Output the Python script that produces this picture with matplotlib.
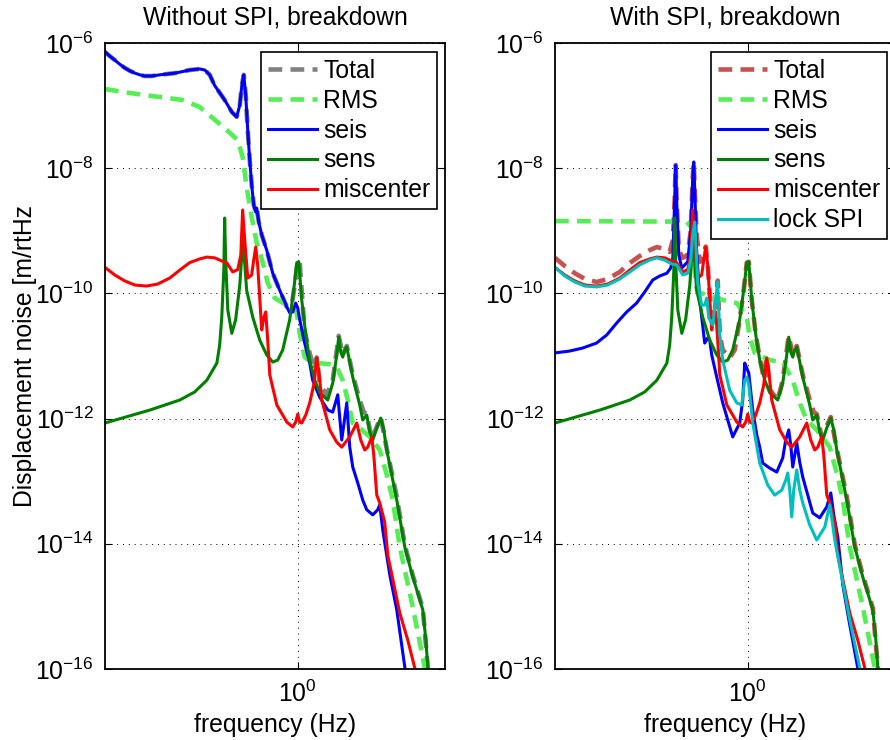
import matplotlib
matplotlib.use('Agg')
import matplotlib.pyplot as plt
from matplotlib.ticker import NullLocator

plt.rcParams['font.family'] = ['Liberation Sans', 'DejaVu Sans']
plt.rcParams['mathtext.default'] = 'regular'

# ---- data (frequency in Hz, displacement noise in m/rtHz) ----
# without SPI
seis_f = [0.110, 0.116, 0.123, 0.130, 0.138, 0.146, 0.155, 0.164, 0.173, 0.188,
          0.206, 0.245, 0.290, 0.325, 0.345, 0.365, 0.386, 0.433, 0.470, 0.497,
          0.515, 0.527, 0.539, 0.551, 0.564, 0.577, 0.590, 0.604, 0.618, 0.625,
          0.640, 0.662, 0.701, 0.751, 0.813, 0.882,
          0.912, 0.944, 0.977, 1.0, 1.023, 1.083, 1.147, 1.187, 1.286, 1.410,
          1.493, 1.581, 1.655, 1.753, 1.814, 1.877, 1.988, 2.105, 2.204, 2.361,
          2.500, 2.558, 2.648, 2.869, 3.108, 3.407, 3.525]
seis_a = [7.2e-7, 6.2e-7, 5.35e-7, 4.6e-7, 4.0e-7, 3.6e-7, 3.3e-7, 3.1e-7, 2.97e-7, 2.97e-7,
          3.1e-7, 3.3e-7, 3.7e-7, 3.85e-7, 3.7e-7, 3.1e-7, 2.1e-7, 1.23e-7, 7.9e-8, 6.6e-8,
          1.02e-7, 2.1e-7, 3.1e-7, 1.48e-7, 4.1e-8, 1.35e-8, 5.4e-9, 2.6e-9, 2.0e-9, 2.3e-9,
          1.38e-9, 8.6e-10, 4.9e-10, 2.1e-10, 1.13e-10, 6.1e-11,
          4.9e-11, 5.05e-11, 7.0e-11, 5.85e-11, 3.8e-11, 1.6e-11, 7.7e-12, 4.1e-12, 2.2e-12, 1.37e-12,
          1.27e-12, 2.4e-12, 4.55e-13, 1.78e-12, 3.5e-13, 1.69e-13, 9.4e-14, 5.0e-14, 3.5e-14, 2.9e-14,
          3.5e-14, 4.2e-14, 1.66e-14, 3.2e-15, 8.8e-16, 1.08e-16, 5.5e-17]

total_f = [0.110, 0.116, 0.123, 0.130, 0.138, 0.146, 0.155, 0.164, 0.173, 0.188,
           0.206, 0.245, 0.290, 0.325, 0.345, 0.365, 0.386, 0.433, 0.470, 0.497,
           0.515, 0.527, 0.539, 0.551, 0.564, 0.577, 0.590, 0.604, 0.618, 0.625,
           0.640, 0.662, 0.701, 0.751, 0.813, 0.882,
           0.934, 0.966, 1.0, 1.023, 1.047, 1.083, 1.147, 1.215, 1.243, 1.286,
           1.394, 1.493, 1.599, 1.674, 1.753, 1.877, 2.034, 2.13, 2.204, 2.334,
           2.588, 2.772, 3.108, 3.407, 3.733, 4.188, 4.433, 4.48]
total_a = [7.2e-7, 6.2e-7, 5.35e-7, 4.6e-7, 4.0e-7, 3.6e-7, 3.3e-7, 3.1e-7, 2.97e-7, 2.97e-7,
           3.1e-7, 3.3e-7, 3.7e-7, 3.85e-7, 3.7e-7, 3.1e-7, 2.1e-7, 1.23e-7, 7.9e-8, 6.6e-8,
           1.02e-7, 2.1e-7, 3.1e-7, 1.48e-7, 4.1e-8, 1.35e-8, 5.4e-9, 2.6e-9, 2.0e-9, 2.3e-9,
           1.38e-9, 8.6e-10, 4.9e-10, 2.1e-10, 1.13e-10, 6.1e-11,
           6.5e-11, 1.36e-10, 3.3e-10, 3.1e-10, 1.05e-10, 2.5e-11, 1.1e-11, 6.0e-12, 9.5e-12, 3.5e-12,
           2.4e-12, 4.1e-12, 2.1e-11, 1.04e-11, 1.45e-11, 5.0e-12, 1.98e-12, 1.27e-12, 1.18e-12, 4.7e-13,
           1.06e-12, 3.3e-13, 5.6e-14, 9.6e-15, 3.15e-15, 9.4e-16, 1.08e-16, 5.5e-17]

rms_f = [0.110, 0.146, 0.206, 0.268, 0.325, 0.378, 0.443, 0.503, 0.532, 0.557,
         0.590, 0.625, 0.647, 0.685, 0.709, 0.769, 0.882, 0.989, 1.023, 1.083,
         1.17, 1.443, 1.563, 1.674, 1.773, 1.877, 2.034, 2.281, 2.558, 2.772,
         2.970, 3.217, 3.733, 4.284, 4.38]
rms_a = [1.84e-7, 1.59e-7, 1.37e-7, 1.23e-7, 9.5e-8, 6.3e-8, 4.1e-8, 2.8e-8, 1.51e-8, 5.0e-9,
         1.66e-9, 6.4e-10, 4.6e-10, 2.4e-10, 1.47e-10, 8.4e-11, 6.5e-11, 4.9e-11, 2.3e-11, 9.6e-12,
         7.9e-12, 7.4e-12, 6.6e-12, 4.1e-12, 1.98e-12, 8.5e-13, 7.1e-13, 5.1e-13, 3.15e-13, 1.26e-13,
         5.0e-14, 8.9e-15, 9.8e-16, 1.04e-16, 6.7e-17]

# same in both panels
sens_f = [0.110, 0.184, 0.259, 0.307, 0.353, 0.373, 0.396, 0.409, 0.419, 0.429,
          0.433, 0.438, 0.449, 0.470, 0.491, 0.515, 0.527, 0.532, 0.539, 0.557,
          0.597, 0.647, 0.701, 0.751, 0.795, 0.842, 0.912, 0.955, 0.989, 1.012,
          1.047, 1.096, 1.147, 1.215, 1.286, 1.410, 1.493, 1.563, 1.599, 1.636,
          1.674, 1.713, 1.753, 1.814, 1.877, 2.034, 2.105, 2.204, 2.281, 2.361,
          2.472, 2.588, 2.678, 2.772, 2.970, 3.108, 3.407, 3.733, 3.910, 4.188,
          4.337, 4.433, 4.48]
sens_a = [8.5e-13, 1.37e-12, 1.98e-12, 2.66e-12, 4.1e-12, 5.55e-12, 7.7e-12, 1.5e-11, 4.2e-11, 2.4e-10,
          1.6e-9, 3.4e-10, 5.4e-11, 2.3e-11, 3.8e-11, 1.36e-10, 4.1e-10, 8.6e-10, 4.9e-10, 1.13e-10,
          4.2e-11, 1.8e-11, 1.04e-11, 8.0e-12, 8.6e-12, 1.25e-11, 3.8e-11, 1.13e-10, 3.1e-10, 3.2e-10,
          7.85e-11, 2.2e-11, 8.6e-12, 4.1e-12, 2.6e-12, 1.98e-12, 3.7e-12, 1.04e-11, 2.0e-11, 1.16e-11,
          9.6e-12, 1.25e-11, 1.39e-11, 8.0e-12, 4.6e-12, 1.65e-12, 9.5e-13, 1.14e-12, 6.1e-13, 4.55e-13,
          7.1e-13, 1.02e-12, 6.6e-13, 3.15e-13, 1.04e-13, 5.0e-14, 8.9e-15, 2.95e-15, 1.83e-15, 8.8e-16,
          2.9e-16, 1.08e-16, 5.5e-17]

misc_f = [0.110, 0.123, 0.138, 0.155, 0.177, 0.201, 0.231, 0.259, 0.290, 0.325,
          0.353, 0.386, 0.419, 0.443, 0.475, 0.503,
          0.521, 0.532, 0.545, 0.564, 0.590, 0.604, 0.618, 0.632, 0.662, 0.677,
          0.693, 0.709, 0.726, 0.787, 0.882, 0.944, 0.977, 1.0, 1.023, 1.047,
          1.096, 1.147, 1.201, 1.243, 1.271, 1.316, 1.443, 1.563, 1.655, 1.814,
          1.965, 2.058, 2.154, 2.229, 2.334, 2.389, 2.472, 2.558, 2.709, 2.804,
          3.217, 3.525, 3.82, 3.91]
misc_a = [2.6e-10, 1.97e-10, 1.58e-10, 1.36e-10, 1.31e-10, 1.41e-10, 1.76e-10, 2.36e-10, 3.1e-10, 3.55e-10,
          3.8e-10, 3.7e-10, 3.3e-10, 3.1e-10, 2.2e-10, 2.4e-10,
          4.1e-10, 2.15e-9, 7.1e-10, 1.76e-10, 1.97e-10, 3.4e-10, 5.5e-10, 2.85e-10, 2.6e-11, 4.05e-11,
          5.05e-11, 1.8e-11, 5.0e-12, 1.65e-12, 8.8e-13, 7.35e-13, 8.8e-13, 1.18e-12, 8.8e-13, 8.5e-13,
          1.14e-12, 1.78e-12, 3.45e-12, 9.3e-12, 6.0e-12, 1.98e-12, 6.6e-13, 4.2e-13, 3.5e-13, 5.1e-13,
          8.5e-13, 4.55e-13, 3.15e-13, 3.5e-13, 5.1e-13, 2.6e-13, 6.0e-14, 4.5e-14, 2.2e-14, 6.6e-15,
          7.85e-16, 2.9e-16, 1.04e-16, 6.7e-17]

# with SPI
seis2_f = [0.110, 0.130, 0.151, 0.177, 0.199, 0.223, 0.250, 0.280, 0.307, 0.337,
           0.365, 0.396, 0.414, 0.424, 0.433,
           0.438, 0.443, 0.454, 0.470, 0.503, 0.521, 0.532, 0.539, 0.545, 0.557,
           0.577, 0.611, 0.632, 0.647, 0.662, 0.701, 0.751, 0.842, 0.912, 0.944,
           0.966, 0.989, 1.012, 1.059, 1.109, 1.147, 1.187, 1.286, 1.394, 1.493,
           1.545, 1.599, 1.636, 1.674, 1.713, 1.753, 1.814, 1.877, 2.105, 2.281,
           2.472, 2.588, 2.678, 2.804, 2.970, 3.217, 3.525, 3.608]
seis2_a = [1.12e-11, 1.2e-11, 1.34e-11, 1.61e-11, 2.17e-11, 3.37e-11, 5.05e-11, 7.0e-11, 1.05e-10, 1.64e-10,
           1.9e-10, 2.1e-10, 2.55e-10, 3.7e-10, 3.1e-9,
           1.12e-8, 3.1e-9, 4.1e-10, 2.55e-10, 3.2e-10, 1.03e-9, 6.5e-9, 1.26e-8, 4.5e-9, 4.9e-10,
           7.85e-11, 1.61e-11, 1.94e-11, 1.8e-11, 1.04e-11, 4.6e-12, 1.78e-12, 5.1e-13, 8.5e-13, 1.98e-12,
           7.7e-12, 6.4e-12, 5.35e-12, 1.37e-12, 5.5e-13, 3.5e-13, 1.95e-13, 1.62e-13, 1.4e-13, 2.35e-13,
           4.55e-13, 6.6e-13, 3.8e-13, 1.69e-13, 2.6e-13, 4.1e-13, 2.0e-13, 1.17e-13, 3.1e-14, 2.6e-14,
           3.9e-14, 6.5e-14, 2.9e-14, 1.28e-14, 2.2e-15, 5.05e-16, 1.04e-16, 6.7e-17]

lock_f = [0.110, 0.123, 0.138, 0.155, 0.177, 0.201, 0.231, 0.259, 0.290, 0.325,
          0.353, 0.386, 0.419, 0.443, 0.475, 0.503,
          0.521, 0.532, 0.545, 0.551, 0.564, 0.590, 0.611, 0.625, 0.640, 0.670,
          0.693, 0.709, 0.726, 0.751, 0.813, 0.882, 0.934, 0.966, 0.989, 1.012,
          1.059, 1.147, 1.257, 1.362, 1.476, 1.545, 1.581, 1.618, 1.655, 1.693,
          1.753, 1.814, 1.877, 2.034, 2.204, 2.416, 2.558, 2.648, 2.709, 2.970,
          3.217, 3.608, 3.69]
lock_a = [2.6e-10, 1.9e-10, 1.52e-10, 1.31e-10, 1.27e-10, 1.36e-10, 1.7e-10, 2.2e-10, 2.85e-10, 3.4e-10,
          3.7e-10, 3.4e-10, 2.95e-10, 2.85e-10, 1.97e-10, 2.1e-10,
          3.4e-10, 8.6e-10, 1.38e-9, 7.1e-10, 1.47e-10, 6.5e-11, 6.5e-11, 8.4e-11, 4.05e-11, 3.13e-11,
          7.85e-11, 1.52e-10, 2.17e-11, 8.6e-12, 2.85e-12, 1.78e-12, 1.65e-12, 4.1e-12, 4.6e-12, 3.45e-12,
          8.5e-13, 1.95e-13, 8.7e-14, 6.0e-14, 7.2e-14, 1.04e-13, 1.35e-13, 7.2e-14, 2.7e-14, 7.2e-14,
          1.51e-13, 7.2e-14, 4.5e-14, 2.0e-14, 1.15e-14, 1.85e-14, 4.2e-14, 2.0e-14, 1.15e-14, 2.4e-15,
          6.1e-16, 1.04e-16, 6.7e-17]

total2_f = [0.110, 0.123, 0.138, 0.155, 0.177, 0.201, 0.231, 0.259, 0.290, 0.325,
            0.353, 0.386, 0.409, 0.424, 0.433, 0.438,
            0.443, 0.454, 0.475, 0.503, 0.521, 0.532, 0.539, 0.545, 0.557, 0.577,
            0.597, 0.618, 0.632, 0.662, 0.685, 0.709, 0.726, 0.751, 0.813, 0.861,
            0.912, 0.955, 0.989, 1.012, 1.047, 1.096, 1.147, 1.201, 1.243, 1.286,
            1.410, 1.493, 1.599, 1.674, 1.753, 1.877, 2.034, 2.13, 2.204, 2.334,
            2.588, 2.772, 3.108, 3.407, 3.733, 4.188, 4.433, 4.48]
total2_a = [3.7e-10, 2.74e-10, 2.1e-10, 1.7e-10, 1.52e-10, 1.7e-10, 2.2e-10, 3.06e-10, 3.95e-10, 4.9e-10,
            5.5e-10, 5.1e-10, 4.6e-10, 7.1e-10, 3.1e-9, 1.12e-8,
            3.1e-9, 4.9e-10, 3.7e-10, 4.1e-10, 1.03e-9, 6.5e-9, 1.26e-8, 4.5e-9, 8.6e-10, 3.2e-10,
            3.4e-10, 5.6e-10, 2.85e-10, 3.76e-11, 5.3e-11, 1.6e-10, 2.2e-11, 1.25e-11, 9.3e-12, 1.25e-11,
            3.8e-11, 1.13e-10, 3.1e-10, 3.2e-10, 7.85e-11, 2.2e-11, 9.3e-12, 4.5e-12, 9.5e-12, 2.9e-12,
            1.98e-12, 4.1e-12, 2.1e-11, 1.04e-11, 1.45e-11, 5.0e-12, 1.98e-12, 1.27e-12, 1.18e-12, 5.1e-13,
            1.06e-12, 3.3e-13, 5.6e-14, 9.6e-15, 3.15e-15, 9.4e-16, 1.08e-16, 5.5e-17]

rms2_f = [0.110, 0.497, 0.527, 0.539, 0.551, 0.564, 0.751, 0.882, 0.989, 1.023,
          1.083, 1.286, 1.493, 1.674, 1.814, 1.965, 2.204, 2.558, 2.804, 2.970,
          3.217, 3.733, 4.284, 4.38]
rms2_a = [1.43e-9, 1.4e-9, 1.1e-9, 4.0e-10, 1.4e-10, 1.05e-10, 7.85e-11, 7.0e-11, 4.2e-11, 2.0e-11,
          1.12e-11, 8.6e-12, 8.0e-12, 4.1e-12, 1.78e-12, 9.5e-13, 6.6e-13, 3.5e-13, 1.17e-13, 5.0e-14,
          8.9e-15, 9.8e-16, 1.04e-16, 6.7e-17]

yticks = [1e-16, 1e-14, 1e-12, 1e-10, 1e-8, 1e-6]
ytick_labels = ['$10^{-16}$', '$10^{-14}$', '$10^{-12}$', '$10^{-10}$', '$10^{-8}$', '$10^{-6}$']

FS = 17.8
rms_col = '#55ee55'

fig = plt.figure(figsize=(8.9, 7.4), dpi=100)
ax1 = fig.add_axes([105/890, 71/740, 340/890, 626/740])
ax2 = fig.add_axes([555/890, 71/740, 340/890, 626/740])

dash = (3.0, 1.8)
ax1.plot(total_f, total_a, color='#808080', lw=3.3, dashes=dash, label='Total')
ax1.plot(rms_f, rms_a, color=rms_col, lw=3.3, dashes=dash, label='RMS')
ax1.plot(seis_f, seis_a, color='b', lw=2.2, label='seis')
ax1.plot(sens_f, sens_a, color='#008000', lw=2.2, label='sens')
ax1.plot(misc_f, misc_a, color='r', lw=2.2, label='miscenter')

ax2.plot(total2_f, total2_a, color='#c85252', lw=3.3, dashes=dash, label='Total')
ax2.plot(rms2_f, rms2_a, color=rms_col, lw=3.3, dashes=dash, label='RMS')
ax2.plot(seis2_f, seis2_a, color='b', lw=2.2, label='seis')
ax2.plot(sens_f, sens_a, color='#008000', lw=2.2, label='sens')
ax2.plot(misc_f, misc_a, color='r', lw=2.2, label='miscenter')
ax2.plot(lock_f, lock_a, color='#00bfbf', lw=2.2, label='lock SPI')

for ax, title in [(ax1, 'Without SPI, breakdown'), (ax2, 'With SPI, breakdown')]:
    ax.set_xscale('log')
    ax.set_yscale('log')
    ax.set_xlim(0.11, 5.4)
    ax.set_ylim(1e-16, 1e-6)
    ax.set_xticks([1])
    ax.set_xticklabels(['$10^{0}$'])
    ax.set_yticks(yticks)
    ax.set_yticklabels(ytick_labels)
    ax.xaxis.set_minor_locator(NullLocator())
    ax.yaxis.set_minor_locator(NullLocator())
    ax.tick_params(direction='in', length=5, width=0.8, top=True, right=True,
                   labelsize=FS, pad=8)
    ax.grid(True, linestyle=(0, (1, 5)), color='k', lw=0.7)
    for s in ax.spines.values():
        s.set_linewidth(1.3)
    ax.set_title(title, fontsize=FS, pad=13)
    ax.set_xlabel('frequency (Hz)', fontsize=FS, labelpad=5)
    leg = ax.legend(loc='upper right', bbox_to_anchor=(1 - 8/340, 1 - 9/626),
                    borderaxespad=0, fontsize=FS, handlelength=2.0, handletextpad=0.25,
                    labelspacing=0.24, borderpad=0.27, fancybox=False, framealpha=1,
                    edgecolor='k')
    leg.get_frame().set_linewidth(1.2)

ax1.set_ylabel('Displacement noise [m/rtHz', fontsize=FS, labelpad=-1)

fig.savefig('out.png', dpi=100)
